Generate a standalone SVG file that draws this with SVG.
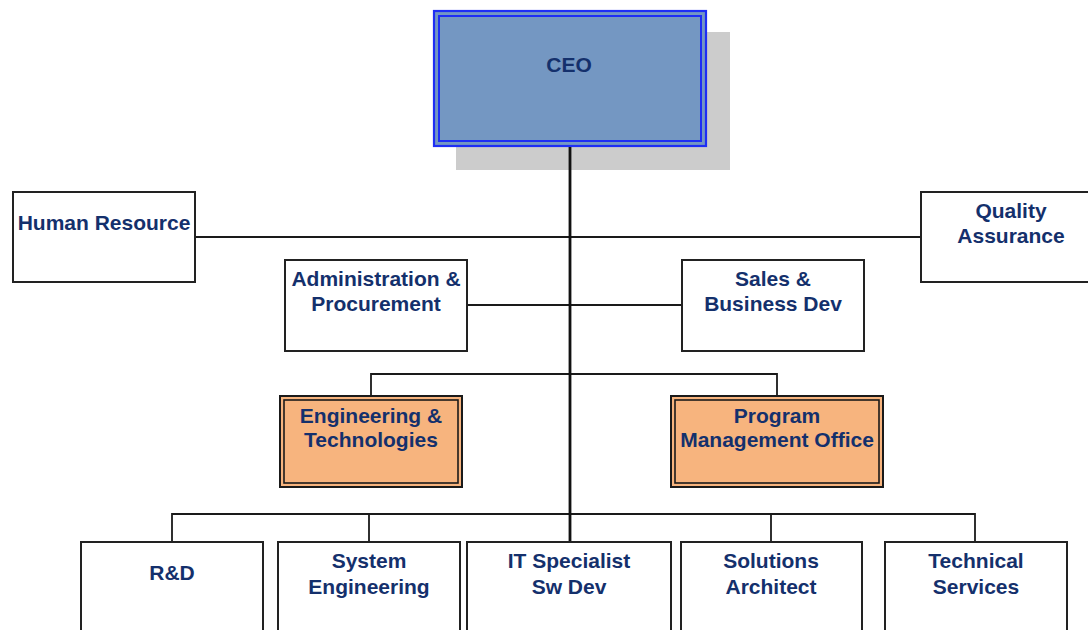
<svg xmlns="http://www.w3.org/2000/svg" width="1088" height="630" viewBox="0 0 1088 630">
  <style>
    .box { fill: #ffffff; stroke: #222222; stroke-width: 2; }
    .dept { fill: #F7B47E; stroke: #1a1a1a; stroke-width: 2; }
    .dept-inner { fill: none; stroke: #1a1a1a; stroke-width: 1.6; }
    .ceo { fill: #7497C2; stroke: #1E2EF5; stroke-width: 2.2; }
    .ceo-inner { fill: none; stroke: #1E2EF5; stroke-width: 2; }
    .wire { fill: none; stroke: #1a1a1a; stroke-width: 1.8; }
    .trunk { fill: none; stroke: #111111; stroke-width: 2.8; }
    text { font-family: "Liberation Sans", Arial, sans-serif; font-weight: bold; font-size: 21px; fill: #14306C; text-anchor: middle; }
  </style>

  <!-- top executive, with its drop shadow underneath the trunk line -->
  <g id="ceo">
    <rect x="456" y="32" width="274" height="138" fill="#CCCCCC"/>
    <rect class="ceo" x="434" y="11" width="272" height="135"/>
    <rect class="ceo-inner" x="439" y="16" width="262" height="125"/>
    <text x="569" y="72">CEO</text>
  </g>

  <!-- connectors -->
  <g id="connectors">
    <line class="wire" x1="195" y1="237" x2="921" y2="237"/>
    <line class="wire" x1="467" y1="305" x2="682" y2="305"/>
    <path class="wire" d="M371 396 V374 H777 V396"/>
    <path class="wire" d="M172 542 V514 H975 V542"/>
    <line class="wire" x1="369" y1="514" x2="369" y2="542"/>
    <line class="wire" x1="771" y1="514" x2="771" y2="542"/>
    <line class="trunk" x1="570" y1="147" x2="570" y2="542"/>
  </g>

  <g id="human-resource">
    <rect class="box" x="13" y="192" width="182" height="90"/>
    <text x="104" y="230">Human Resource</text>
  </g>

  <g id="quality-assurance">
    <rect class="box" x="921" y="192" width="182" height="90"/>
    <text x="1011" y="218">Quality</text>
    <text x="1011" y="243">Assurance</text>
  </g>

  <g id="administration">
    <rect class="box" x="285" y="260" width="182" height="91"/>
    <text x="376" y="286">Administration &amp;</text>
    <text x="376" y="311">Procurement</text>
  </g>

  <g id="sales">
    <rect class="box" x="682" y="260" width="182" height="91"/>
    <text x="773" y="286">Sales &amp;</text>
    <text x="773" y="311">Business Dev</text>
  </g>

  <g id="engineering">
    <rect class="dept" x="280" y="396" width="182" height="91"/>
    <rect class="dept-inner" x="284" y="400" width="174" height="83"/>
    <text x="371" y="423">Engineering &amp;</text>
    <text x="371" y="447">Technologies</text>
  </g>

  <g id="program-management">
    <rect class="dept" x="671" y="396" width="212" height="91"/>
    <rect class="dept-inner" x="675" y="400" width="204" height="83"/>
    <text x="777" y="423">Program</text>
    <text x="777" y="447">Management Office</text>
  </g>

  <g id="rnd">
    <rect class="box" x="81" y="542" width="182" height="91"/>
    <text x="172" y="580">R&amp;D</text>
  </g>

  <g id="system-engineering">
    <rect class="box" x="278" y="542" width="182" height="91"/>
    <text x="369" y="568">System</text>
    <text x="369" y="594">Engineering</text>
  </g>

  <g id="it-specialist">
    <rect class="box" x="467" y="542" width="204" height="91"/>
    <text x="569" y="568">IT Specialist</text>
    <text x="569" y="594">Sw Dev</text>
  </g>

  <g id="solutions-architect">
    <rect class="box" x="681" y="542" width="181" height="91"/>
    <text x="771" y="568">Solutions</text>
    <text x="771" y="594">Architect</text>
  </g>

  <g id="technical-services">
    <rect class="box" x="885" y="542" width="182" height="91"/>
    <text x="976" y="568">Technical</text>
    <text x="976" y="594">Services</text>
  </g>
</svg>
